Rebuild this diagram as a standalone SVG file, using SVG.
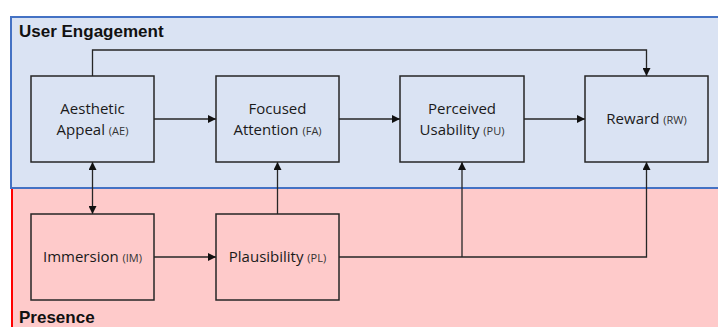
<svg xmlns="http://www.w3.org/2000/svg" width="718" height="327" viewBox="0 0 718 327">
<style>
.box{fill:none;stroke:#262626;stroke-width:1.5}
.t{font-family:"Open Sans","Liberation Sans",sans-serif;font-size:15px;fill:#1a1a1a;text-anchor:middle}
.s{font-size:11px;fill:#333}
.h{font-family:"Liberation Sans",Arial,sans-serif;font-size:17px;font-weight:bold;fill:#111}
.c{fill:none;stroke:#262626;stroke-width:1.3}
</style>
<defs>
<marker id="a" viewBox="0 0 10 10" refX="10" refY="5" markerWidth="8" markerHeight="8" markerUnits="userSpaceOnUse" orient="auto-start-reverse">
<path d="M0,0 L10,5 L0,10 z" fill="#111"/>
</marker>
</defs>
<rect x="0" y="0" width="718" height="327" fill="#fff"/>
<g id="presence">
<rect x="11" y="188" width="800" height="150" fill="#fecaca"/>
<line x1="12" y1="188" x2="12" y2="327" stroke="#ff0000" stroke-width="2"/>
<text class="h" x="19" y="323">Presence</text>
</g>
<g id="engagement">
<rect x="11" y="17" width="800" height="171" fill="#dae3f3" stroke="#4472c4" stroke-width="2"/>
<text class="h" x="19" y="37">User Engagement</text>
</g>
<g id="connectors">
<line class="c" x1="154" y1="119" x2="216" y2="119" marker-end="url(#a)"/>
<line class="c" x1="339" y1="119" x2="400" y2="119" marker-end="url(#a)"/>
<line class="c" x1="524" y1="119" x2="585" y2="119" marker-end="url(#a)"/>
<polyline class="c" points="92.5,76 92.5,50 646.5,50 646.5,76" marker-end="url(#a)"/>
<line class="c" x1="92.5" y1="162" x2="92.5" y2="214" marker-start="url(#a)" marker-end="url(#a)"/>
<line class="c" x1="277.5" y1="214" x2="277.5" y2="162" marker-end="url(#a)"/>
<line class="c" x1="154" y1="257" x2="216" y2="257" marker-end="url(#a)"/>
<polyline class="c" points="339,257 646.5,257 646.5,162" marker-end="url(#a)"/>
<line class="c" x1="462" y1="257" x2="462" y2="162" marker-end="url(#a)"/>
</g>
<g id="AE">
<rect class="box" x="31" y="76" width="123" height="86"/>
<text class="t" x="92.5" y="114">Aesthetic</text>
<text class="t" x="92.5" y="135">Appeal <tspan class="s">(AE)</tspan></text>
</g>
<g id="FA">
<rect class="box" x="216" y="76" width="123" height="86"/>
<text class="t" x="277.5" y="114">Focused</text>
<text class="t" x="277.5" y="135">Attention <tspan class="s">(FA)</tspan></text>
</g>
<g id="PU">
<rect class="box" x="400" y="76" width="124" height="86"/>
<text class="t" x="462" y="114">Perceived</text>
<text class="t" x="462" y="135">Usability <tspan class="s">(PU)</tspan></text>
</g>
<g id="RW">
<rect class="box" x="585" y="76" width="123" height="86"/>
<text class="t" x="646.5" y="124">Reward <tspan class="s">(RW)</tspan></text>
</g>
<g id="IM">
<rect class="box" x="31" y="214" width="123" height="86"/>
<text class="t" x="92.5" y="262">Immersion <tspan class="s">(IM)</tspan></text>
</g>
<g id="PL">
<rect class="box" x="216" y="214" width="123" height="86"/>
<text class="t" x="277.5" y="262">Plausibility <tspan class="s">(PL)</tspan></text>
</g>
</svg>
